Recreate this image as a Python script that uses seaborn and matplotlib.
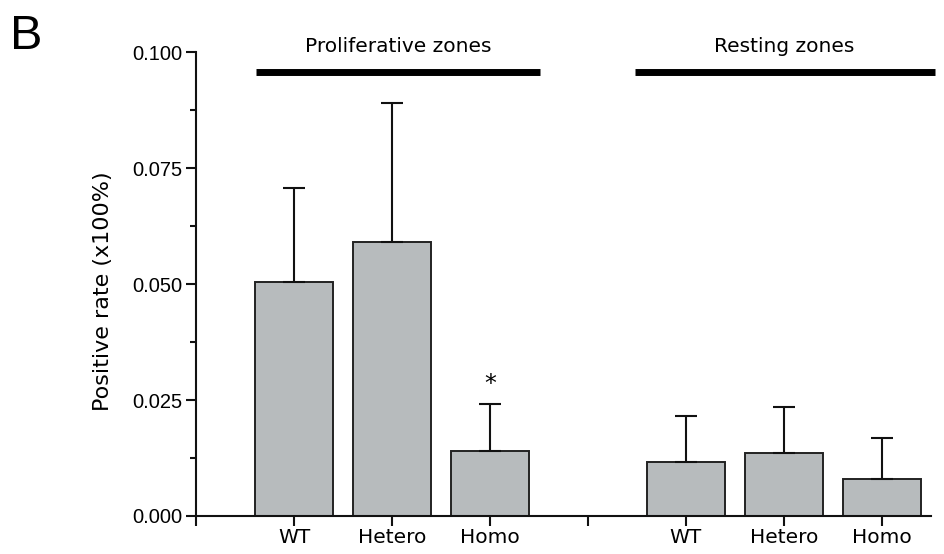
import matplotlib
matplotlib.use("Agg")
import matplotlib.pyplot as plt
import seaborn as sns
import numpy as np
import pandas as pd

# Data
groups = ["WT", "Hetero", "Homo", "WT", "Hetero", "Homo"]
zones = ["Proliferative zones", "Resting zones"]
positions = [1, 2, 3, 5, 6, 7]
means = [0.0505, 0.0590, 0.0141, 0.0117, 0.0135, 0.0079]
errors = [0.0202, 0.0300, 0.0100, 0.0099, 0.0101, 0.0089]
yticks = [0.000, 0.025, 0.050, 0.075, 0.100]

sns.set_theme(style="ticks")
plt.rcParams['font.family'] = ['Liberation Sans', 'DejaVu Sans']
plt.rcParams['text.color'] = 'black'
plt.rcParams['axes.labelcolor'] = 'black'
plt.rcParams['xtick.color'] = 'black'
plt.rcParams['ytick.color'] = 'black'

df = pd.DataFrame({"pos": positions, "mean": means, "group": groups})

fig = plt.figure(figsize=(9.45, 5.54), dpi=100)
ax = fig.add_axes([0.2074, 0.0686, 0.985 - 0.2074, 0.906 - 0.0686])

sns.barplot(data=df, x="pos", y="mean", native_scale=True, width=0.8,
            color="#b7bbbd", saturation=1, edgecolor="#222222", linewidth=1.4,
            errorbar=None, ax=ax)
ax.errorbar(positions, means, yerr=[np.zeros(len(errors)), errors], fmt="none",
            ecolor="#111111", elinewidth=1.5, capsize=8, capthick=1.5, zorder=1)

ax.set_xlim(0, 7.5)
ax.set_ylim(0, 0.1)
ax.set_yticks(yticks)
ax.set_yticklabels([f"{v:.3f}" for v in yticks], fontsize=14.5)
ax.set_yticks([0.0125, 0.0375, 0.0625, 0.0875], minor=True)
ax.set_xticks(range(8))
lbls = [""] * 8
for p, g in zip(positions, groups):
    lbls[p] = g
ax.set_xticklabels(lbls, fontsize=14.5, family=["DejaVu Sans"])
ax.tick_params(axis="both", which="major", direction="out", length=7, width=1.5, color="#111111")
ax.tick_params(axis="y", which="minor", direction="out", length=4, width=1.5, color="#111111")
ax.tick_params(axis="x", pad=2)
ax.tick_params(axis="y", pad=3)
for s in ["top", "right"]:
    ax.spines[s].set_visible(False)
for s in ["left", "bottom"]:
    ax.spines[s].set_linewidth(1.5)
    ax.spines[s].set_color("#111111")

ax.set_xlabel("")
ax.set_ylabel("Positive rate (x100%)", fontsize=16, family=["DejaVu Sans"])
ax.yaxis.set_label_coords(-0.113, 0.485)

# Zone bars and titles
ax.plot([0.61, 3.51], [0.0957, 0.0957], color="black", lw=5, clip_on=False, solid_capstyle="butt")
ax.plot([4.48, 7.54], [0.0957, 0.0957], color="black", lw=5, clip_on=False, solid_capstyle="butt")
ax.text(2.06, 0.1013, zones[0], ha="center", va="center", fontsize=14.5, family=["DejaVu Sans"])
ax.text(6.0, 0.1013, zones[1], ha="center", va="center", fontsize=14.5, family=["DejaVu Sans"])

# Significance star
ax.text(3, 0.0285, "*", ha="center", va="center", fontsize=17, family=["DejaVu Sans"])

fig.text(0.011, 0.935, "B", fontsize=35, ha="left", va="center")

fig.savefig("out.png", dpi=100, facecolor="white")
